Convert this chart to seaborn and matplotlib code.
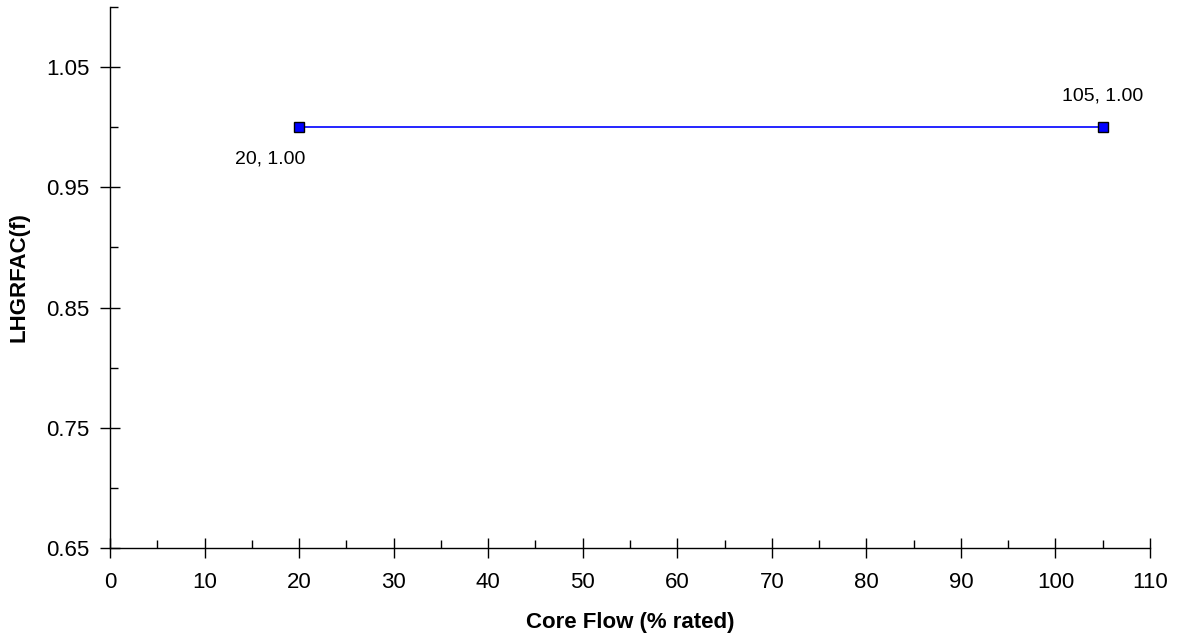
import matplotlib
matplotlib.use("Agg")
import matplotlib.pyplot as plt
import seaborn as sns
import pandas as pd
from matplotlib.ticker import MultipleLocator, FormatStrFormatter

# data
core_flow = [20, 105]
lhgrfac = [1.00, 1.00]
point_labels = ["20, 1.00", "105, 1.00"]

sns.set_style("white", {"text.color": "black", "axes.labelcolor": "black",
                        "xtick.color": "black", "ytick.color": "black",
                        "axes.edgecolor": "black"})
plt.rcParams['font.family'] = ['Liberation Sans', 'DejaVu Sans']

df = pd.DataFrame({"flow": core_flow, "fac": lhgrfac})

fig = plt.figure(figsize=(11.84, 6.4), dpi=100)
ax = fig.add_axes([0.0929, 0.1437, 0.8784, 0.8453])

sns.lineplot(data=df, x="flow", y="fac", ax=ax, color="#0000ff", linewidth=1.2,
             marker="s", markersize=7, markerfacecolor="#0000ff",
             markeredgecolor="black", markeredgewidth=1.0)

# point annotations
ax.annotate(point_labels[0], (core_flow[0], lhgrfac[0]), xytext=(-20.5, -23),
            textcoords="offset points", ha="center", va="center", fontsize=14)
ax.annotate(point_labels[1], (core_flow[1], lhgrfac[1]), xytext=(0, 22.5),
            textcoords="offset points", ha="center", va="center", fontsize=14)

ax.set_xlim(0, 110)
ax.set_ylim(0.65, 1.10)
ax.xaxis.set_major_locator(MultipleLocator(10))
ax.xaxis.set_minor_locator(MultipleLocator(5))
ax.set_yticks([0.65, 0.75, 0.85, 0.95, 1.05])
ax.set_yticks([0.70, 0.80, 0.90, 1.00, 1.10], minor=True)
ax.yaxis.set_major_formatter(FormatStrFormatter("%.2f"))

ax.tick_params(which="major", direction="inout", length=14, width=1, labelsize=16,
               bottom=True, left=True)
ax.tick_params(axis="x", which="major", pad=10)
ax.tick_params(axis="y", which="major", pad=8)
ax.tick_params(which="minor", direction="in", length=6, width=1, bottom=True, left=True)

for s in ["top", "right"]:
    ax.spines[s].set_visible(False)
for s in ["left", "bottom"]:
    ax.spines[s].set_linewidth(1)

ax.set_xlabel("Core Flow (% rated)", fontsize=16, fontweight="bold", labelpad=14)
ax.set_ylabel("LHGRFAC(f)", fontsize=16, fontweight="bold", labelpad=12)

fig.savefig("out.png", dpi=100)
